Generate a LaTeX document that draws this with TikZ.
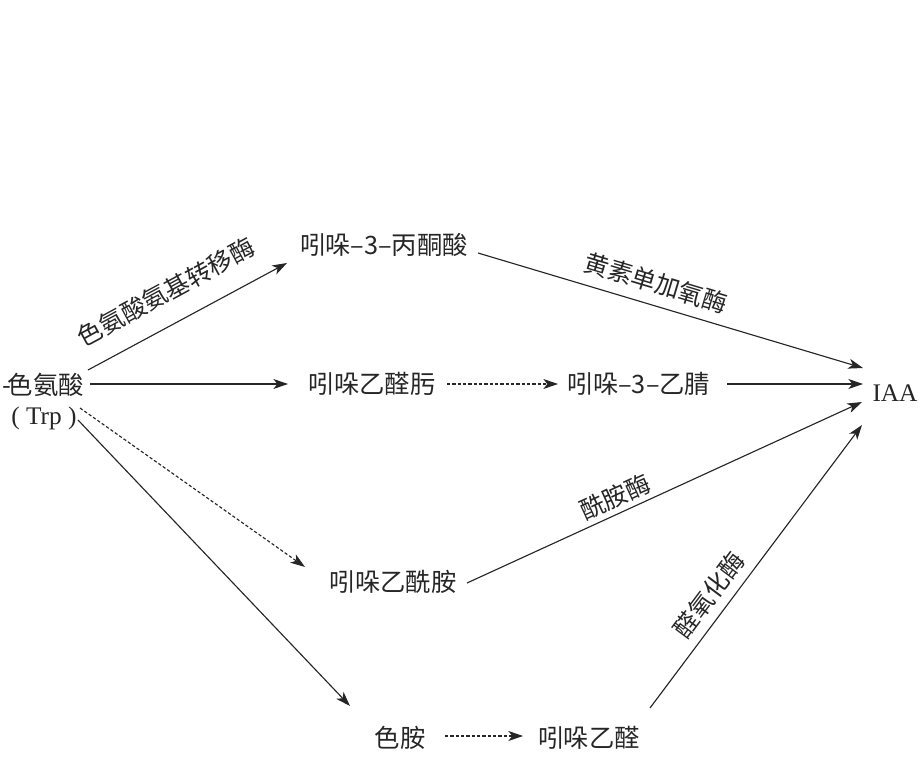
\documentclass[tikz,border=0pt]{standalone}
\usepackage{fontspec}
\setmainfont{Liberation Serif}
\newfontfamily\cjk{Noto Sans CJK SC}
\usetikzlibrary{arrows.meta,calc}
\begin{document}
\begin{tikzpicture}[x=0.75pt,y=-0.75pt,
  txt/.style={font=\cjk\fontsize{19}{22}\selectfont, inner sep=0pt, text=black!85},
  lat/.style={font=\rmfamily\fontsize{19}{22}\selectfont, inner sep=0pt, text=black!85},
  lbl/.style={font=\cjk\fontsize{18.5}{22}\selectfont, inner sep=0pt, text=black!85},
  arr/.style={-{Stealth[length=11pt,width=7.5pt,inset=3pt]}, line width=0.85pt, draw=black!85},
  darr/.style={arr, dash pattern=on 2.4pt off 1.6pt}]
\useasboundingbox (0,0) rectangle (919,773);

% nodes
\node[txt, anchor=east] (trp) at (84,385) {-\kern-3pt 色氨酸};
\node[lat] (trpl) at (44,418) {( Trp )};
\node[txt] (ipa) at (384,245) {吲哚–3–丙酮酸};
\node[txt] (iaox) at (372,384) {吲哚乙醛肟};
\node[txt] (ian) at (639,384) {吲哚–3–乙腈};
\node[lat] (iaa) at (895,393) {IAA};
\node[txt] (iam) at (393,582) {吲哚乙酰胺};
\node[txt] (tam) at (400,738) {色胺};
\node[txt] (iaald) at (589,738) {吲哚乙醛};

% connectors
\draw[arr] ($(trp.east)+(4,-15)$) -- ($(ipa)+(-97,18)$);
\draw[arr] ($(trp.east)+(6,-1)$) -- ($(iaox)+(-84,0)$);
\draw[darr] ($(iaox)+(75,0)$) -- ($(ian)+(-81,0)$);
\draw[arr] ($(ian)+(88,0)$) -- ($(iaa)+(-32,-9)$);
\draw[arr] ($(ipa)+(94,8)$) -- ($(iaa)+(-32,-25)$);
\draw[darr] ($(trp.east)+(-4,23)$) -- ($(iam)+(-88,-15)$);
\draw[arr] ($(trpl)+(34,2)$) -- ($(tam)+(-50,-32)$);
\draw[arr] ($(iam)+(74,1)$) -- ($(iaa)+(-33,9)$);
\draw[darr] ($(tam)+(45,-2)$) -- ($(iaald)+(-66,-2)$);
\draw[arr] ($(iaald)+(61,-30)$) -- ($(iaa)+(-33,32)$);

% enzyme labels
\node[lbl, rotate=28.5] (e1) at (166,292) {色氨酸氨基转移酶};
\node[lbl, rotate=-16.7] (e2) at (656,283) {黄素单加氧酶};
\node[lbl, rotate=24.6] (e3) at (615,497) {酰胺酶};
\node[lbl, rotate=53.2] (e4) at (709,595) {醛氧化酶};
\end{tikzpicture}
\end{document}
